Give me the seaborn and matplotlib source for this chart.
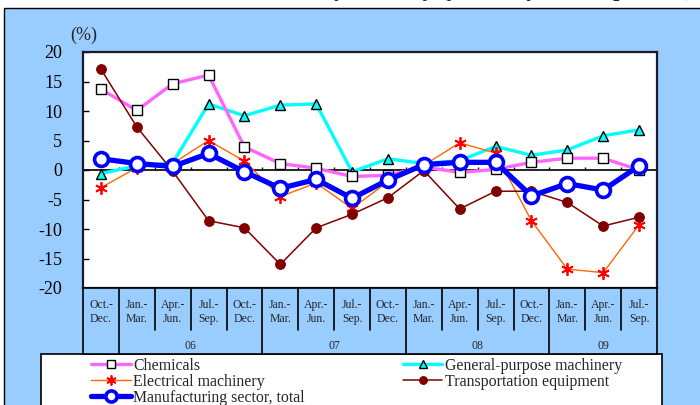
import numpy as np
import pandas as pd
import matplotlib
matplotlib.use("Agg")
import matplotlib.pyplot as plt
from matplotlib.patches import Rectangle
import seaborn as sns

# ---------------- data ----------------
quarters = ["Oct.-\nDec.", "Jan.-\nMar.", "Apr.-\nJun.", "Jul.-\nSep.",
            "Oct.-\nDec.", "Jan.-\nMar.", "Apr.-\nJun.", "Jul.-\nSep.",
            "Oct.-\nDec.", "Jan.-\nMar.", "Apr.-\nJun.", "Jul.-\nSep.",
            "Oct.-\nDec.", "Jan.-\nMar.", "Apr.-\nJun.", "Jul.-\nSep."]
years = ["06", "07", "08", "09"]
year_first_idx = [1, 5, 9, 13]   # index of first quarter of each year

chemicals = [13.7, 10.1, 14.6, 16.1, 3.9, 1.1, 0.3, -1.1, -0.9, 0.5, -0.4, 0.1, 1.3, 2.0, 2.0, 0.0]
general = [-0.6, 0.7, 1.2, 11.2, 9.2, 11.0, 11.2, -0.3, 1.9, 1.1, 1.6, 4.0, 2.5, 3.4, 5.8, 6.8]
electrical = [-3.0, 0.4, 1.1, 5.0, 1.5, -4.5, -2.2, -6.5, -2.0, 0.8, 4.6, 2.9, -8.6, -16.8, -17.4, -9.3]
transport = [17.1, 7.3, -0.2, -8.6, -9.8, -16.0, -9.8, -7.5, -4.7, -0.1, -6.6, -3.6, -3.6, -5.5, -9.5, -8.0]
total = [1.9, 1.1, 0.6, 2.8, -0.3, -3.1, -1.6, -4.8, -1.7, 0.9, 1.3, 1.3, -4.4, -2.3, -3.4, 0.7]

labels = ["Chemicals", "General-purpose machinery", "Electrical machinery",
          "Transportation equipment", "Manufacturing sector, total"]

# ---------------- style ----------------
sns.set_style("white")
plt.rcParams["font.family"] = ["Liberation Serif", "DejaVu Serif"]

BG = "#99CCFF"
W, H = 700, 405
fig = plt.figure(figsize=(7, 4.05), dpi=100)
fig.patch.set_facecolor("white")

# outer light-blue panel
fig.add_artist(Rectangle((4 / W, -0.02), 1.0, (H - 8) / H + 0.02,
                         transform=fig.transFigure, facecolor=BG,
                         edgecolor="black", lw=1.0, zorder=-2))

# title (cut off at top in reference: only descenders visible)
fig.text(0.989, 1 + 4 / H, "Production by Industry (year-on-year comparison)",
         ha="right", va="baseline", fontsize=16, fontweight="bold")

# ---------------- main axes ----------------
x0, x1 = 83, 657
y_top, y_bot = 52, 288
ax = fig.add_axes([x0 / W, 1 - y_bot / H, (x1 - x0) / W, (y_bot - y_top) / H])
ax.set_facecolor("white")

n = len(quarters)
xs = np.arange(n)
df = pd.DataFrame({"x": xs, "chem": chemicals, "gen": general, "elec": electrical,
                   "trans": transport, "total": total})

sns.lineplot(data=df, x="x", y="gen", ax=ax, color="#00FFFF", lw=2.4,
             marker="^", markersize=7, markerfacecolor="#00FFFF",
             markeredgecolor="black", markeredgewidth=1.0, label=labels[1], zorder=3)
sns.lineplot(data=df, x="x", y="chem", ax=ax, color="#FF66FF", lw=2.4,
             marker="s", markersize=7.5, markerfacecolor="white",
             markeredgecolor="black", markeredgewidth=1.0, label=labels[0], zorder=3)
sns.lineplot(data=df, x="x", y="elec", ax=ax, color="#FF6600", lw=1.0,
             marker=(6, 2, 0), markersize=9, markerfacecolor="red",
             markeredgecolor="red", markeredgewidth=1.3, label=labels[2], zorder=4)
sns.lineplot(data=df, x="x", y="trans", ax=ax, color="#800000", lw=1.1,
             marker="o", markersize=7, markerfacecolor="#800000",
             markeredgecolor="#800000", label=labels[3], zorder=4)
sns.lineplot(data=df, x="x", y="total", ax=ax, color="#0000FF", lw=3.8,
             marker="o", markersize=10, markerfacecolor="white",
             markeredgecolor="#0000FF", markeredgewidth=2.6, label=labels[4], zorder=5)

handles_map = {l.get_label(): l for l in ax.get_lines()}
leg = ax.get_legend()
if leg is not None:
    leg.remove()

ax.set_xlim(-0.5, n - 0.5)
ax.set_ylim(-20, 20)
ax.set_yticks(np.arange(-20, 25, 5))
ax.set_yticklabels([str(v) for v in range(-20, 25, 5)], fontsize=13)
ax.set_xticks([])
ax.set_xlabel("")
ax.set_ylabel("")
ax.tick_params(axis="y", direction="in", length=4, width=1, pad=15, left=True, right=False,
               colors="black")
for side, sp in ax.spines.items():
    sp.set_visible(True)
    sp.set_color("#1a1a2a")
    sp.set_linewidth(1.6)

# zero line with small tick marks at category boundaries
ax.axhline(0, color="black", lw=1.2, zorder=2)
ax.vlines(xs[1:] - 0.5, 0, 0.55, color="black", lw=1.0, zorder=2)

fig.text(84 / W, 1 - 35 / H, "(%)", ha="center", va="center", fontsize=13)

# ---------------- category table ----------------
t_top, t_bot, t_mid = 288, 354, 330
axt = fig.add_axes([x0 / W, 1 - t_bot / H, (x1 - x0) / W, (t_bot - t_top) / H])
axt.set_facecolor(BG)
axt.set_xlim(-0.5, n - 0.5)
axt.set_ylim(0, 1)
axt.set_xticks([])
axt.set_yticks([])
for sp in axt.spines.values():
    sp.set_color("black")
    sp.set_linewidth(1.2)
mid = (t_bot - t_mid) / (t_bot - t_top)
for b in xs[1:]:
    if b in year_first_idx:
        axt.axvline(b - 0.5, 0, 1, color="black", lw=1.2)
    else:
        axt.axvline(b - 0.5, mid, 1, color="black", lw=1.2)
for i, q in enumerate(quarters):
    axt.text(i, (t_bot - 312) / (t_bot - t_top), q, ha="center", va="center",
             fontsize=8.5, linespacing=1.25)
ends = year_first_idx[1:] + [n]
for y, s, e in zip(years, year_first_idx, ends):
    axt.text((s + e - 1) / 2, (t_bot - 346) / (t_bot - t_top), y,
             ha="center", va="center", fontsize=8.5)

# ---------------- legend ----------------
fig.add_artist(Rectangle((41 / W, -0.05), (662 - 41) / W, (H - 354) / H + 0.05,
                         transform=fig.transFigure, facecolor="white",
                         edgecolor="black", lw=1.2, zorder=-1))
order = [labels[0], labels[2], labels[4], labels[1], labels[3]]
fig.legend([handles_map[l] for l in order], order, loc="upper left",
           bbox_to_anchor=(91 / W, 1 - 358 / H), ncol=2, frameon=False,
           fontsize=11.4, handlelength=2.5, handletextpad=0.15,
           columnspacing=6.2, borderpad=0, borderaxespad=0,
           labelspacing=0.0, markerscale=0.8)

fig.savefig("out.png", dpi=100)
